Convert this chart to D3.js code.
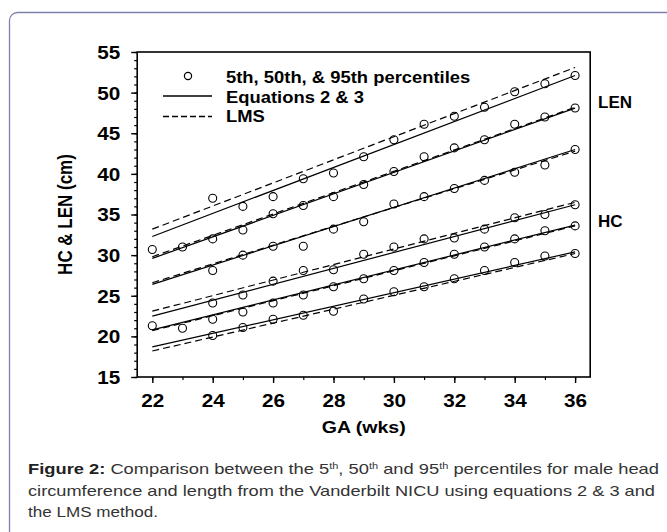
<!DOCTYPE html>
<html>
<head>
<meta charset="utf-8">
<script src="https://cdn.jsdelivr.net/npm/d3@7"></script>
<style>
  body { margin: 0; background: #fff; }
  svg { display: block; }
</style>
</head>
<body>
<svg id="fig" width="667" height="532"></svg>
<script>
// Gestational age (weeks) on the x axis
const weeks = [22, 23, 24, 25, 26, 27, 28, 29, 30, 31, 32, 33, 34, 35, 36];

// Observed percentiles (cm); null where no point is plotted
const len95 = [null, null, 37.0, 36.0, 37.2, 39.4, 40.1, 42.1, 44.2, 46.1, 47.1, 48.2, 50.1, 51.1, 52.1];
const len50 = [30.7, 31.0, 32.0, 33.1, 35.1, 36.1, 37.2, 38.7, 40.3, 42.1, 43.2, 44.2, 46.1, 47.0, 48.1];
const len5  = [null, null, 28.1, 30.0, 31.1, 31.1, 33.2, 34.1, 36.3, 37.2, 38.2, 39.2, 40.2, 41.1, 43.0];
const hc95  = [null, null, 24.1, 25.1, 26.8, 28.1, 28.2, 30.1, 31.0, 32.0, 32.1, 33.2, 34.6, 35.0, 36.2];
const hc50  = [21.3, 21.0, 22.1, 23.0, 24.1, 25.1, 26.1, 27.1, 28.1, 29.1, 30.1, 31.0, 32.0, 33.0, 33.6];
const hc5   = [null, null, 20.1, 21.1, 22.1, 22.6, 23.1, 24.6, 25.5, 26.1, 27.1, 28.1, 29.1, 29.9, 30.2];

// Fitted curves at 22 and 36 weeks, order: LEN 95/50/5, HC 95/50/5
const fitWeeks = [22, 36];
const eqStart  = [32.3, 29.6, 26.4, 22.5, 20.8, 18.7];
const eqEnd    = [52.1, 48.1, 43.0, 36.2, 33.7, 30.4];
const lmsStart = [33.2, 29.8, 26.6, 23.1, 20.7, 18.2];
const lmsEnd   = [53.1, 48.2, 42.8, 36.5, 33.6, 30.2];

// Axis ticks
const xTicks = [22, 24, 26, 28, 30, 32, 34, 36];
const yTicks = [15, 20, 25, 30, 35, 40, 45, 50, 55];

const legendLabels = ["5th, 50th, & 95th percentiles", "Equations 2 & 3", "LMS"];
const sideLabels = [{ text: "LEN", v: 48.8 }, { text: "HC", v: 34.2 }];

const svg = d3.select("#fig");
const font = "'Liberation Sans', Arial, Helvetica, sans-serif";
const SX = 1.15; // horizontal glyph stretch of the chart lettering

// Card outline
svg.append("rect")
  .attr("x", 9.5).attr("y", 12.5)
  .attr("width", 700).attr("height", 560)
  .attr("rx", 8).attr("ry", 8)
  .attr("fill", "#fff")
  .attr("stroke", "#8080b0").attr("stroke-width", 1.3);

const x = d3.scaleLinear().domain([21.5, 36.5]).range([137.2, 590.2]);
const y = d3.scaleLinear().domain([15, 55]).range([377, 52]);

const plot = svg.append("g");

// Minor ticks
plot.append("g").attr("transform", `translate(0,${y(15)})`)
  .call(d3.axisBottom(x).tickValues(d3.range(22, 37, 1)).tickSize(3).tickFormat(""))
  .call(g => g.select(".domain").remove())
  .call(g => g.selectAll("line").attr("stroke-width", 1.2));
plot.append("g").attr("transform", `translate(${x(21.5)},0)`)
  .call(d3.axisLeft(y).tickValues(d3.range(15, 56, 1)).tickSize(3).tickFormat(""))
  .call(g => g.select(".domain").remove())
  .call(g => g.selectAll("line").attr("stroke-width", 1.2));

// Major ticks and labels
plot.append("g").attr("transform", `translate(0,${y(15)})`)
  .call(d3.axisBottom(x).tickValues(xTicks).tickSize(6).tickFormat(d3.format("d")))
  .call(g => g.select(".domain").remove())
  .call(g => g.selectAll("line").attr("stroke-width", 1.4))
  .call(g => g.selectAll("text")
    .attr("y", 30).attr("dy", 0)
    .attr("transform", `scale(${SX},1)`)
    .attr("font-family", font).attr("font-size", 18).attr("font-weight", "bold")
    .attr("fill", "#000"));
plot.append("g").attr("transform", `translate(${x(21.5)},0)`)
  .call(d3.axisLeft(y).tickValues(yTicks).tickSize(6).tickFormat(d3.format("d")))
  .call(g => g.select(".domain").remove())
  .call(g => g.selectAll("line").attr("stroke-width", 1.4))
  .call(g => g.selectAll("text")
    .attr("x", -17 / SX).attr("dy", "0.36em")
    .attr("transform", `scale(${SX},1)`)
    .attr("font-family", font).attr("font-size", 18).attr("font-weight", "bold")
    .attr("fill", "#000"));

// Frame
plot.append("rect")
  .attr("x", x(21.5)).attr("y", y(55))
  .attr("width", x(36.5) - x(21.5)).attr("height", y(15) - y(55))
  .attr("fill", "none").attr("stroke", "#000").attr("stroke-width", 1.6);

// Axis titles
svg.append("g").attr("transform", `translate(${(x(21.5) + x(36.5)) / 2},433)`)
  .append("text")
  .attr("text-anchor", "middle")
  .attr("transform", `scale(${SX},1)`)
  .attr("font-family", font).attr("font-size", 17).attr("font-weight", "bold")
  .attr("fill", "#000")
  .text("GA (wks)");
svg.append("g").attr("transform", `translate(72,${(y(15) + y(55)) / 2}) rotate(-90)`)
  .append("text")
  .attr("text-anchor", "middle")
  .attr("transform", `scale(1,${SX})`)
  .attr("font-family", font).attr("font-size", 17).attr("font-weight", "bold")
  .attr("fill", "#000")
  .text("HC & LEN (cm)");

// Fitted lines
const lineGen = d3.line().x(d => x(d[0])).y(d => y(d[1]));
const fits = eqStart.map((s, i) => ({
  eq: [[fitWeeks[0], s], [fitWeeks[1], eqEnd[i]]],
  lms: [[fitWeeks[0], lmsStart[i]], [fitWeeks[1], lmsEnd[i]]]
}));
plot.append("g").selectAll("path.eq").data(fits).join("path")
  .attr("class", "eq")
  .attr("d", d => lineGen(d.eq))
  .attr("fill", "none").attr("stroke", "#000").attr("stroke-width", 1.2);
plot.append("g").selectAll("path.lms").data(fits).join("path")
  .attr("class", "lms")
  .attr("d", d => lineGen(d.lms))
  .attr("fill", "none").attr("stroke", "#000").attr("stroke-width", 1.2)
  .attr("stroke-dasharray", "7,4");

// Observed percentile points
const series = [len95, len50, len5, hc95, hc50, hc5];
const points = [];
series.forEach(s => s.forEach((v, i) => { if (v != null) points.push([weeks[i], v]); }));
plot.append("g").selectAll("circle").data(points).join("circle")
  .attr("cx", d => x(d[0])).attr("cy", d => y(d[1]))
  .attr("r", 4)
  .attr("fill", "none").attr("stroke", "#000").attr("stroke-width", 1.1);

// Legend
const leg = svg.append("g");
leg.append("circle").attr("cx", 188).attr("cy", 76).attr("r", 3.6)
  .attr("fill", "none").attr("stroke", "#000").attr("stroke-width", 1.2);
leg.append("line").attr("x1", 163).attr("x2", 212).attr("y1", 96).attr("y2", 96)
  .attr("stroke", "#000").attr("stroke-width", 1.3);
leg.append("line").attr("x1", 163).attr("x2", 212).attr("y1", 116.5).attr("y2", 116.5)
  .attr("stroke", "#000").attr("stroke-width", 1.3).attr("stroke-dasharray", "6,3");
legendLabels.forEach((t, i) => {
  leg.append("g").attr("transform", `translate(226,${83 + i * 19.5})`)
    .append("text")
    .attr("transform", `scale(${SX},1)`)
    .attr("font-family", font).attr("font-size", 16).attr("font-weight", "bold")
    .attr("fill", "#000")
    .text(t);
});

// Group labels at the right of the frame
svg.selectAll("text.side").data(sideLabels).join("text")
  .attr("class", "side")
  .attr("x", 598).attr("y", d => y(d.v) + 6)
  .attr("font-family", font).attr("font-size", 17).attr("font-weight", "bold")
  .attr("fill", "#000")
  .text(d => d.text);

// Caption
const cap = svg.append("g").attr("font-family", font).attr("font-size", 15).attr("fill", "#333");
const l1 = cap.append("text").attr("x", 28).attr("y", 474)
  .attr("textLength", 631).attr("lengthAdjust", "spacingAndGlyphs");
l1.append("tspan").attr("font-weight", "bold").attr("fill", "#222").text("Figure 2:");
l1.append("tspan").text(" Comparison between the 5");
l1.append("tspan").attr("font-size", 9).attr("dy", -5).text("th");
l1.append("tspan").attr("dy", 5).text(", 50");
l1.append("tspan").attr("font-size", 9).attr("dy", -5).text("th");
l1.append("tspan").attr("dy", 5).text(" and 95");
l1.append("tspan").attr("font-size", 9).attr("dy", -5).text("th");
l1.append("tspan").attr("dy", 5).text(" percentiles for male head");
cap.append("text").attr("x", 28).attr("y", 495.5)
  .attr("textLength", 627).attr("lengthAdjust", "spacingAndGlyphs")
  .text("circumference and length from the Vanderbilt NICU using equations 2 & 3 and");
cap.append("text").attr("x", 28).attr("y", 517)
  .attr("textLength", 130).attr("lengthAdjust", "spacingAndGlyphs")
  .text("the LMS method.");
</script>
</body>
</html>
